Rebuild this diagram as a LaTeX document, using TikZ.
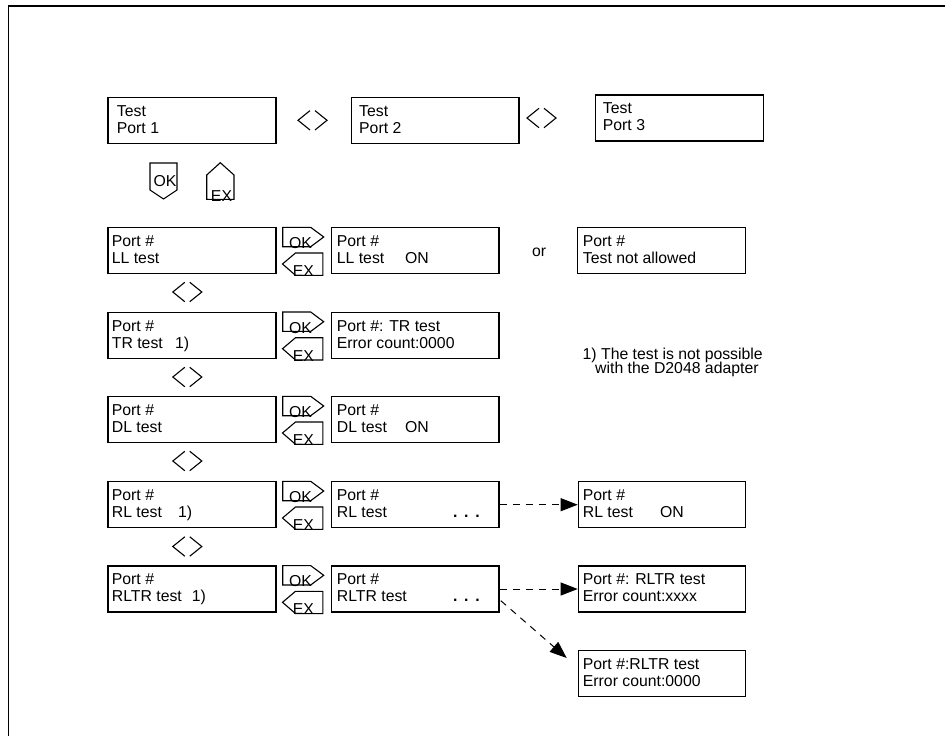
\documentclass[tikz,border=0pt]{standalone}
\usepackage{fontspec}
\setmainfont{Liberation Sans}
\usetikzlibrary{calc,arrows.meta}
\tikzset{
  dbox/.style={draw, line width=1.4pt, rectangle, minimum height=46pt, inner sep=0pt, anchor=north west},
  txt/.style={font=\fontsize{15.8}{17}\selectfont, inner sep=0pt, anchor=base west},
  btntxt/.style={font=\fontsize{15.8}{17}\selectfont, inner sep=0pt, anchor=base},
  btn/.style={draw, line width=1.1pt, line join=miter},
  chev/.style={draw, line width=1.1pt},
  dasharrow/.style={line width=1pt, dash pattern=on 7pt off 6pt, -{Triangle[length=17pt,width=13pt]}},
  pics/navpair/.style={code={
     \draw[chev] (-2.5,-9.7) -- (-14.5,0) -- (-2.5,9.7);
     \draw[chev] (2.5,-9.7) -- (14.5,0) -- (2.5,9.7);}},
  pics/okbtn/.style={code={
     \draw[btn] (0,0) -- (28,0) -- (41,9.7) -- (28,19.4) -- (0,19.4) -- cycle;
     \node[btntxt] (-t) at (17.8,21.2) {OK};}},
  pics/exbtn/.style={code={
     \draw[btn] (0,11) -- (13,0) -- (40.3,0) -- (40.3,22.3) -- (13,22.3) -- cycle;
     \node[btntxt] (-t) at (20.8,23.5) {EX};}},
}
% #1 name, #2 x, #3 top y, #4 width, #5 text inset, #6 line 1, #7 line 2
\newcommand\dispbox[7]{%
  \node[dbox, minimum width=#4pt] (#1) at (#2,#3) {};
  \node[txt] (#1-a) at ($(#1.north west)+(#5,19.3)$) {#6};
  \node[txt] (#1-b) at ($(#1.north west)+(#5,36.6)$) {#7};}
\newcommand\dotsx{\textbf{.\hspace{6.8pt}.\hspace{6.8pt}.}}
\begin{document}
\begin{tikzpicture}[x=1pt,y=-1pt]
\useasboundingbox (0,0) rectangle (945,736);
% frame
\draw[line width=1.8pt] (8.5,736) -- (8.5,5.7) -- (945,5.7);

% top row
\dispbox{t1}{107.3}{96.7}{168}{9.4}{Test}{Port 1}
\dispbox{t2}{350.7}{96.7}{167.5}{8.3}{Test}{Port 2}
\dispbox{t3}{595}{94.3}{167.7}{7.7}{Test}{Port 3}
\pic at (312.5,120.3) {navpair};
\pic at (541.5,118) {navpair};

% key legend
\draw[btn] (150,163) -- (177,163) -- (177,190) -- (163.5,199) -- (150,190) -- cycle;
\node[btntxt] (okkey) at (165,186) {OK};
\draw[btn] (206.7,175) -- (220.3,162.7) -- (234,175) -- (234,199.3) -- (206.7,199.3) -- cycle;
\node[btntxt] (exkey) at (221.5,201) {EX};

% row 1: LL
\dispbox{l1}{107.3}{227}{168}{4.4}{Port \#}{LL test}
\pic (ok1) at (282.7,227.3) {okbtn};
\pic (ex1) at (282.5,253) {exbtn};
\dispbox{r1}{330.7}{227}{167.7}{6}{Port \#}{\makebox[68.3pt][l]{LL test}ON}
\node[txt] (or) at (532,256) {or};
\dispbox{na}{577}{227}{168}{5.7}{Port \#}{Test not allowed}
\pic at (187.3,292) {navpair};

% row 2: TR
\dispbox{l2}{107.3}{311.7}{168}{4.4}{Port \#}{\makebox[63.3pt][l]{TR test}1)}
\pic (ok2) at (282.7,312) {okbtn};
\pic (ex2) at (282.5,337.7) {exbtn};
\dispbox{r2}{330.7}{311.7}{167.7}{6}{Port \#: TR test}{Error count:0000}
\node[txt] (fn1) at (582.5,359) {1) The test is not possible};
\node[txt] (fn2) at (595,373.3) {with the D2048 adapter};
\pic at (187.3,377) {navpair};

% row 3: DL
\dispbox{l3}{107.3}{396}{168}{4.4}{Port \#}{DL test}
\pic (ok3) at (282.7,396.3) {okbtn};
\pic (ex3) at (282.5,422) {exbtn};
\dispbox{r3}{330.7}{396}{167.7}{6}{Port \#}{\makebox[68.3pt][l]{DL test}ON}
\pic at (187.3,461) {navpair};

% row 4: RL
\dispbox{l4}{107.3}{481}{168}{4.4}{Port \#}{\makebox[66.3pt][l]{RL test}1)}
\pic (ok4) at (282.7,481.3) {okbtn};
\pic (ex4) at (282.5,507) {exbtn};
\dispbox{r4}{330.7}{481}{167.7}{6}{Port \#}{\makebox[116.1pt][l]{RL test}\dotsx}
\dispbox{rlon}{577.7}{481}{167.3}{5}{Port \#}{\makebox[77.3pt][l]{RL test}ON}
\pic at (187.3,546.5) {navpair};

% row 5: RLTR
\dispbox{l5}{107.3}{565.3}{168}{4.4}{Port \#}{\makebox[80pt][l]{RLTR test}1)}
\pic (ok5) at (282.7,565.6) {okbtn};
\pic (ex5) at (282.5,591.3) {exbtn};
\dispbox{r5}{330.7}{565.3}{167.7}{6}{Port \#}{\makebox[116.1pt][l]{RLTR test}\dotsx}
\dispbox{rx}{577.7}{565.3}{167.3}{5}{Port \#: RLTR test}{Error count:xxxx}
\dispbox{r0}{577.7}{650}{167.3}{5}{Port \#:RLTR test}{Error count:0000}

% dashed connectors
\coordinate (dtip) at (566.7,658);
\draw[dasharrow] (r4.east) -- (rlon.west);
\draw[dasharrow] (r5.east) -- (rx.west);
\draw[dasharrow] ($(r5.south east)+(1,-12)$) -- (dtip);
\end{tikzpicture}
\end{document}
